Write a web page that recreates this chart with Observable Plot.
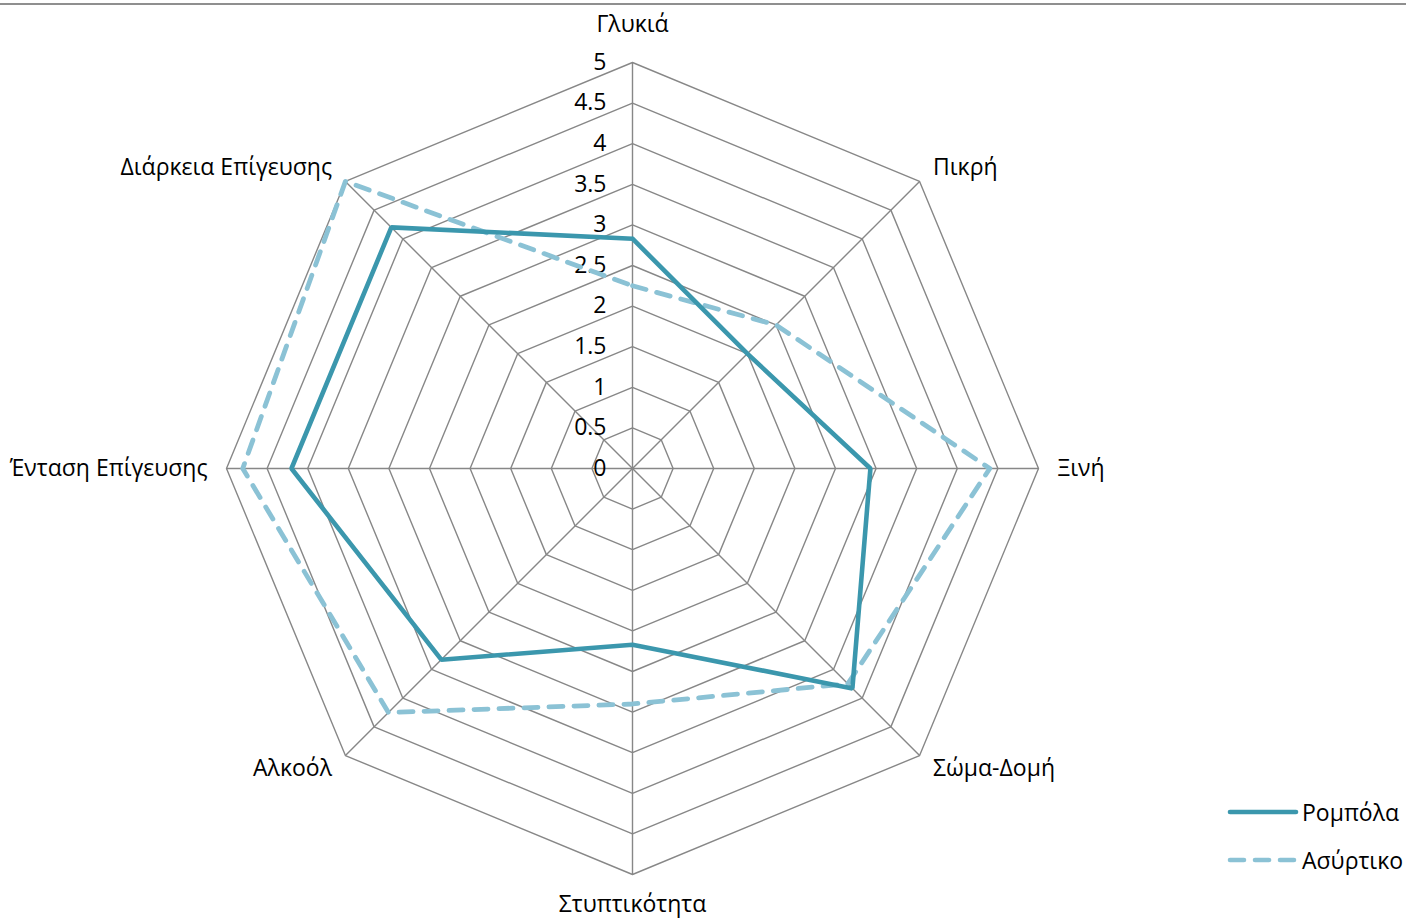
<!DOCTYPE html>
<html>
<head>
<meta charset="utf-8">
<script src="https://cdn.jsdelivr.net/npm/d3@7"></script>
<script src="https://cdn.jsdelivr.net/npm/@observablehq/plot@0.6"></script>
<style>
  html, body { margin: 0; padding: 0; background: #fff; }
  #wrap { position: relative; width: 1406px; height: 920px; overflow: hidden; font-family: "Open Sans", sans-serif; }
  #topline { position: absolute; left: 0; top: 3px; width: 1406px; height: 2px; background: #8f8f8f; }
  #chart { position: absolute; left: 0; top: 0; }
  #legend { position: absolute; left: 1226px; top: 788px; font-size: 23px; color: #000; }
  .item { display: flex; align-items: center; height: 48px; }
  .item svg { margin-right: 2px; }
</style>
</head>
<body>
<div id="wrap">
  <div id="chart"></div>
  <div id="topline"></div>
  <div id="legend"></div>
</div>
<script>
// ---- data ----
const axes = ["Γλυκιά", "Πικρή", "Ξινή", "Σώμα-Δομή", "Στυπτικότητα", "Αλκοόλ", "Ένταση Επίγευσης", "Διάρκεια Επίγευσης"];
const seriesNames = ["Ρομπόλα", "Ασύρτικο"];
const robola   = [2.83, 2.0, 2.93, 3.83, 2.17, 3.33, 4.2, 4.2];
const asyrtiko = [2.25, 2.5, 4.4, 3.75, 2.9, 4.25, 4.8, 5.0];
const levels = [0, 0.5, 1, 1.5, 2, 2.5, 3, 3.5, 4, 4.5, 5];
const tickLabels = ["0", "0.5", "1", "1.5", "2", "2.5", "3", "3.5", "4", "4.5", "5"];

// ---- layout / style ----
const W = 1406, H = 920, cx = 632, cy = 468, ppu = 81.2;
const maxV = 5;
const gridColor = "#878787";
const colors = ["#3b97ad", "#8bc2d5"];
const dashes = [null, "14,11"];
const font = "'Open Sans', sans-serif";
const fs = 23;

const n = axes.length;
const ang = i => i * 2 * Math.PI / n;
const px = (r, i) => r * Math.sin(ang(i));
const py = (r, i) => r * Math.cos(ang(i));

// grid polygons
const gridPts = [];
levels.filter(l => l > 0).forEach(l => {
  for (let k = 0; k <= n; k++) gridPts.push({level: l, x: px(l, k % n), y: py(l, k % n)});
});
// spokes
const spokes = axes.map((a, i) => ({x1: 0, y1: 0, x2: px(maxV, i), y2: py(maxV, i)}));
// series polygons
const seriesData = [robola, asyrtiko].map((vals, s) => {
  const pts = [];
  for (let k = 0; k <= n; k++) pts.push({series: seriesNames[s], x: px(vals[k % n], k % n), y: py(vals[k % n], k % n)});
  return pts;
});
// axis labels (radial offsets in pixels converted to value units)
const labelRows = axes.map((a, i) => {
  const pad = (i === 0) ? 38 : (i === n / 2) ? 30 : 19;
  const r = maxV + pad / ppu;
  const anchor = (i === 0 || i === n / 2) ? "middle" : (i < n / 2 ? "start" : "end");
  return {label: a, x: px(r, i), y: py(r, i), anchor};
});
const ticks = levels.map((l, i) => ({v: l, label: tickLabels[i]}));

const chart = Plot.plot({
  width: W, height: H, margin: 0,
  style: {fontFamily: font, fontSize: fs + "px", background: "transparent"},
  x: {domain: [-cx / ppu, (W - cx) / ppu], axis: null},
  y: {domain: [-(H - cy) / ppu, cy / ppu], axis: null},
  marks: [
    Plot.line(gridPts, {x: "x", y: "y", z: "level", stroke: gridColor, strokeWidth: 1.4}),
    Plot.link(spokes, {x1: "x1", y1: "y1", x2: "x2", y2: "y2", stroke: gridColor, strokeWidth: 1.4}),
    Plot.text(ticks, {x: 0, y: "v", text: "label", textAnchor: "end", dx: -26, fill: "#000", fontSize: fs}),
    Plot.line(seriesData[1], {x: "x", y: "y", stroke: colors[1], strokeWidth: 4.8, strokeDasharray: dashes[1], strokeLinecap: "round", strokeLinejoin: "round"}),
    Plot.line(seriesData[0], {x: "x", y: "y", stroke: colors[0], strokeWidth: 4.6, strokeLinejoin: "miter"}),
    ...["middle", "start", "end"].map(an =>
      Plot.text(labelRows.filter(d => d.anchor === an), {x: "x", y: "y", text: "label", textAnchor: an, fill: "#000", fontSize: fs})
    )
  ]
});
document.getElementById("chart").appendChild(chart);

// legend
const legend = document.getElementById("legend");
seriesNames.forEach((name, s) => {
  const item = document.createElement("div");
  item.className = "item";
  const dash = dashes[s] ? `stroke-dasharray="${dashes[s]}" stroke-linecap="round"` : `stroke-linecap="round"`;
  item.innerHTML = `<svg width="74" height="10"><line x1="4" y1="5" x2="70" y2="5" stroke="${colors[s]}" stroke-width="4.6" ${dash}/></svg><span>${name}</span>`;
  legend.appendChild(item);
});
</script>
</body>
</html>
